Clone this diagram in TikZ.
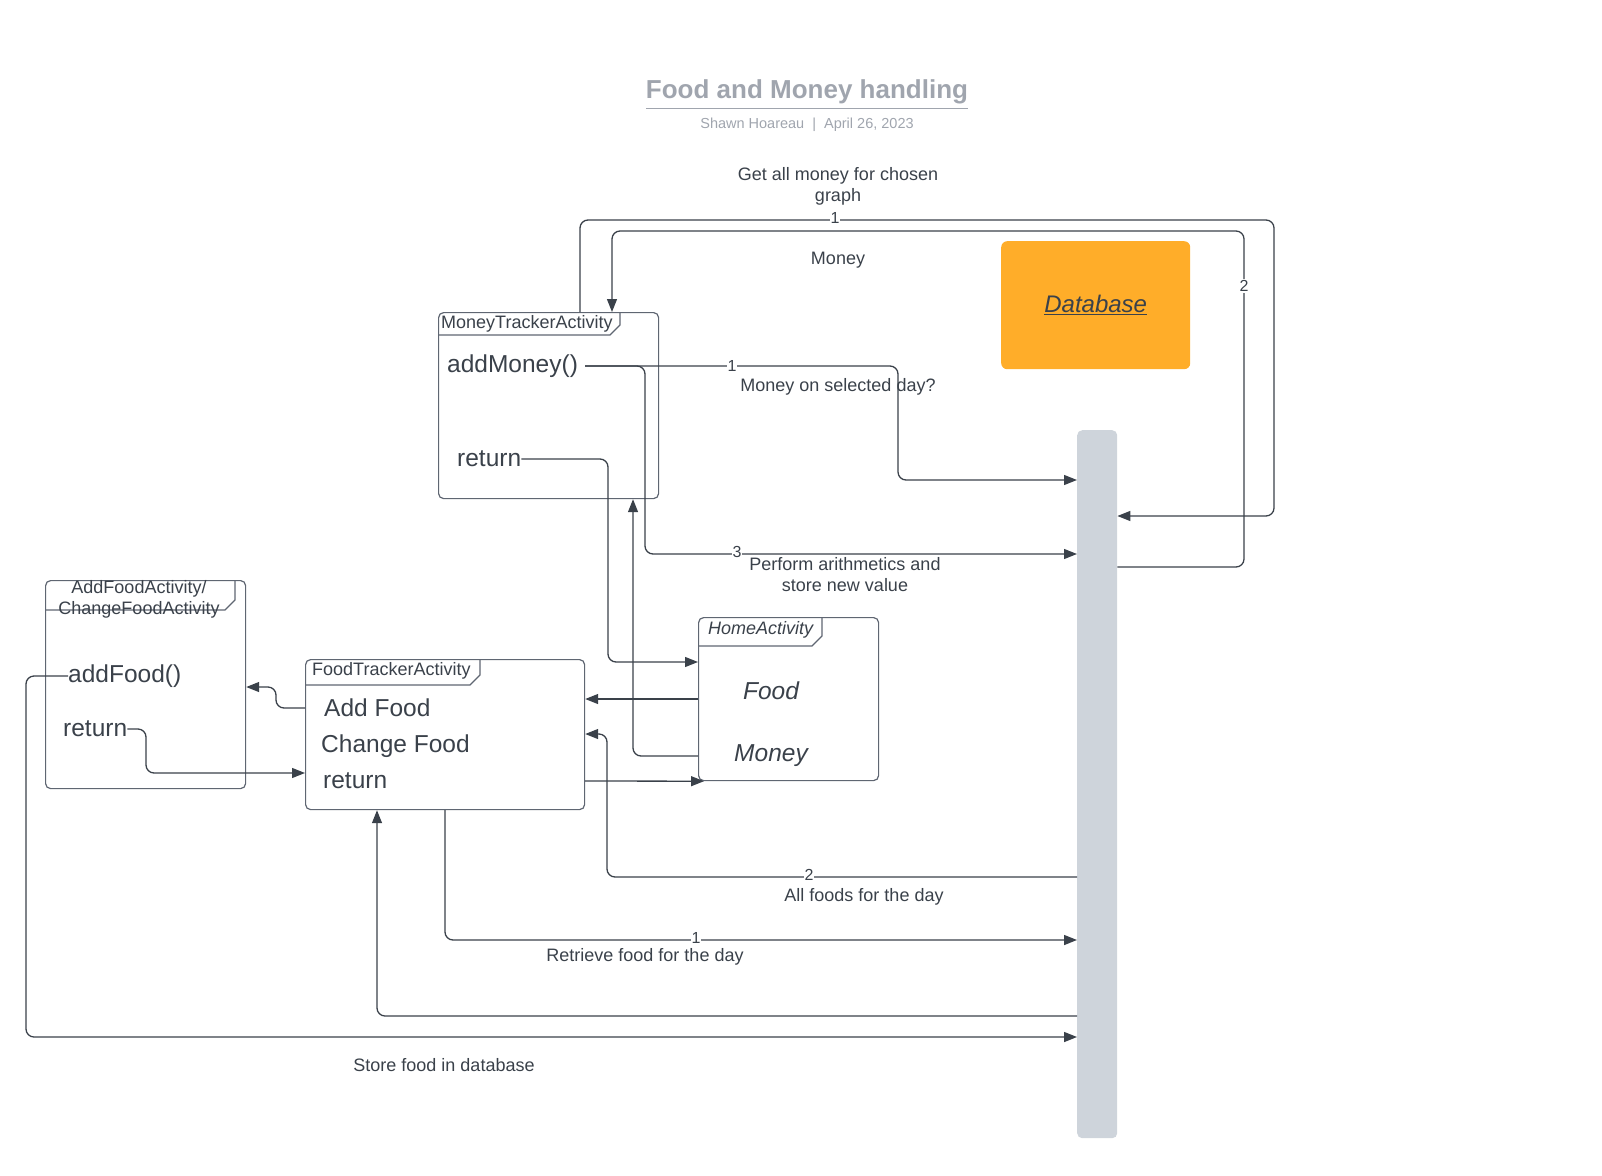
\documentclass[tikz,border=0pt]{standalone}
\usepackage{fontspec}
\setmainfont{Liberation Sans}
\usetikzlibrary{arrows.meta}
\definecolor{ink}{HTML}{3A414A}
\definecolor{framegray}{HTML}{5F6672}
\definecolor{titlegray}{HTML}{A0A5AE}
\definecolor{dborange}{HTML}{FFAD29}
\definecolor{lifegray}{HTML}{CED4DB}
\newcommand{\fsz}[2]{\fontsize{#1}{#2}\selectfont}

\begin{document}
\begin{tikzpicture}[x=1pt,y=-1pt,
    actframe/.style={draw=framegray, line width=1.2pt, rounded corners=5pt, anchor=north west, inner sep=0pt},
    tabline/.style={draw=framegray, line width=1.2pt},
    tabtext/.style={anchor=west, inner sep=0pt, text=ink, font=\fsz{18}{21}},
    bigtext/.style={anchor=west, inner sep=0pt, text=ink, font=\fsz{24.5}{28}},
    msg/.style={text=ink, align=center, inner sep=0pt, font=\fsz{18}{21}},
    num/.style={text=ink, fill=white, inner sep=1pt, font=\fsz{16}{18}},
    conn/.style={draw=ink, line width=1.3pt, rounded corners=8pt, -{Triangle[length=13pt,width=10pt]}}]

  \useasboundingbox (0,0) rectangle (1602,1175);

  % title
  \node[text=titlegray, inner sep=0pt, font=\fsz{26}{30}\bfseries] (title) at (807,92) {Food and Money handling};
  \draw[titlegray, line width=1.5pt] ([yshift=-4pt]title.south west) -- ([yshift=-4pt]title.south east);
  \node[text=titlegray, inner sep=0pt, font=\fsz{14.5}{17}] (subtitle) at (807,125) {Shawn Hoareau \ | \ April 26, 2023};

  % database and lifeline
  \node[fill=dborange, rounded corners=6pt, anchor=north west, minimum width=189pt, minimum height=128pt] (db) at (1001,241) {};
  \node[text=ink, inner sep=0pt, font=\fsz{24}{28}\itshape] (dbtext) at (db.center) {\underline{Database}};
  \node[fill=lifegray, rounded corners=5pt, anchor=north west, inner sep=0pt, minimum width=40pt, minimum height=708pt] (life) at (1077,430) {};

  % activity frames
  \begin{scope}
    \node[actframe, minimum width=220pt, minimum height=186pt] (mta) at (438,312) {};
    \node[actframe, minimum width=180pt, minimum height=163pt] (hom) at (698,617) {};
    \node[actframe, minimum width=279pt, minimum height=150pt] (fta) at (305,659) {};
    \node[actframe, minimum width=200pt, minimum height=208pt] (afa) at (45,580) {};

    \draw[tabline] (mta.west |- 0,335) -- (610,335) -- (620,325) -- (620,312);
    \draw[tabline] (hom.west |- 0,646) -- (812,646) -- (822,636) -- (822,617);
    \draw[tabline] (fta.west |- 0,685) -- (470,685) -- (480,675) -- (480,659);
    \draw[tabline] (afa.west |- 0,610) -- (225,610) -- (235,600) -- (235,580);
  \end{scope}

  % frame texts
  \begin{scope}
    \node[tabtext] (mta-t) at (441,324) {MoneyTrackerActivity};
    \node[tabtext, font=\fsz{18}{21}\itshape] (hom-t) at (708,630) {HomeActivity};
    \node[tabtext] (fta-t) at (312,671) {FoodTrackerActivity};
    \node[msg] (afa-t) at (139,599) {AddFoodActivity/\\ChangeFoodActivity};

    \node[bigtext] (addm) at (447,366) {addMoney()};
    \node[bigtext] (retm) at (457,459) {return};
    \node[bigtext, anchor=center, font=\fsz{24.5}{28}\itshape] (food) at (771,691) {Food};
    \node[bigtext, anchor=center, font=\fsz{24.5}{28}\itshape] (money) at (771,756) {Money};
    \node[bigtext] (addfd) at (324,708) {Add Food};
    \node[bigtext] (chgfd) at (321,746) {Change Food};
    \node[bigtext] (retft) at (323,781) {return};
    \node[bigtext] (addf) at (68,676) {addFood()};
    \node[bigtext] (retf) at (63,729) {return};
  \end{scope}

  % connectors
  \begin{scope}[every path/.style={conn}]
    \draw (mta.north -| 580,0) |- (1274,220) |- (life.east |- 0,516);
    \draw (life.east |- 0,567) -| (1244,231) -| (mta.north -| 612,0);
    \draw ([xshift=7pt]addm.east) -| (898,480) -- (life.west |- 0,480);
    \draw ([xshift=7pt]addm.east) -| (645,554) -- (life.west |- 0,554);
    \draw (retm.east) -| (608,662) -- (hom.west |- 0,662);
    \draw (hom.west |- 0,756) -| (mta.south -| 633,0);
    \draw (hom.west |- 0,699) -- (fta.east |- 0,699);
    \draw (fta.east |- 0,781) -- ([xshift=6pt]hom.south west);
    \draw (life.west |- 0,877) -| (607,734) -- (fta.east |- 0,734);
    \draw (fta.south -| 445,0) |- (life.west |- 0,940);
    \draw (life.west |- 0,1016) -| (fta.south -| 377,0);
    \draw (addf.west) -| (26,1037) -- (life.west |- 0,1037);
    \draw (fta.west |- 0,708) -| (276,687) -- (afa.east |- 0,687);
    \draw (retf.east) -| (146,773) -- (fta.west |- 0,773);
  \end{scope}

  % connector labels
  \node[num] (n-get) at (835,218) {1};
  \node[msg] (m-get) at (838,186) {Get all money for chosen\\graph};
  \node[num] (n-money) at (1244,286) {2};
  \node[msg] (m-money) at (838,260) {Money};
  \node[num] (n-sel) at (732,366) {1};
  \node[msg] (m-sel) at (838,387) {Money on selected day?};
  \node[num] (n-arith) at (737,552) {3};
  \node[msg] (m-arith) at (845,575) {Perform arithmetics and\\store new value};
  \node[num] (n-foods) at (809,875) {2};
  \node[msg] (m-foods) at (864,897) {All foods for the day};
  \node[num] (n-retr) at (696,938) {1};
  \node[msg] (m-retr) at (645,957) {Retrieve food for the day};
  \node[msg] (m-store) at (444,1065) {Store food in database};

\end{tikzpicture}
\end{document}
